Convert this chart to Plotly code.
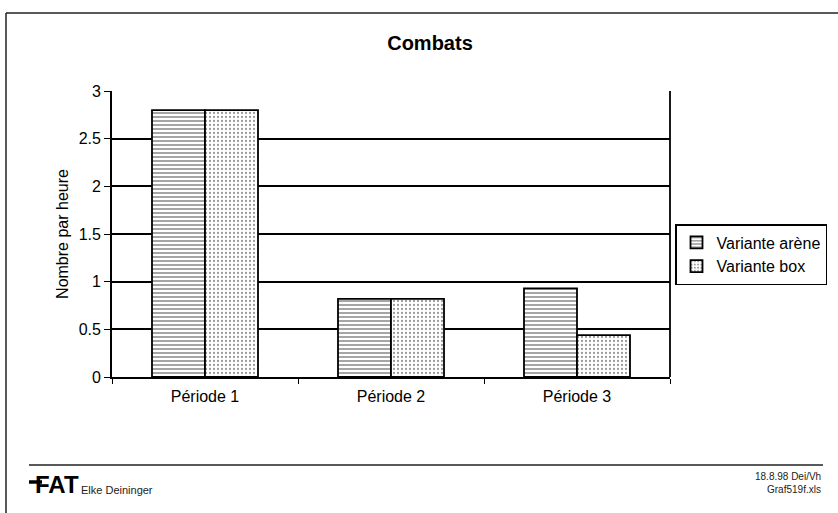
import plotly.graph_objects as go

categories = ["Période 1", "Période 2", "Période 3"]
arene = [2.8, 0.82, 0.93]
box = [2.8, 0.82, 0.44]
series_names = ["Variante arène", "Variante box"]
y_ticks = [0, 0.5, 1, 1.5, 2, 2.5, 3]
y_tick_labels = ["0", "0.5", "1", "1.5", "2", "2.5", "3"]

W, H = 838, 513
L, R, T, B = 112, 670, 91, 377
def px(x):
    return (x - L) / (R - L)
def py(y):
    return (B - y) / (B - T)

FONT = "Arial, Liberation Sans, sans-serif"
TS = 16

fig = go.Figure()
fig.add_trace(go.Bar(
    x=categories, y=arene, name=series_names[0],
    marker=dict(color="white", line=dict(color="black", width=1.8),
                pattern=dict(shape="-", fgcolor="black", bgcolor="white",
                             size=4, solidity=0.35, fillmode="overlay")),
))
fig.add_trace(go.Bar(
    x=categories, y=box, name=series_names[1],
    marker=dict(color="white", line=dict(color="black", width=1.8),
                pattern=dict(shape=".", fgcolor="#333", bgcolor="white",
                             size=4, solidity=0.25, fillmode="overlay")),
))

shapes = [
    # page border (left & top)
    dict(type="line", xref="paper", yref="paper", x0=px(6), y0=py(513), x1=px(6), y1=py(13),
         line=dict(color="#222", width=1.5)),
    dict(type="line", xref="paper", yref="paper", x0=px(6), y0=py(13), x1=px(838), y1=py(13),
         line=dict(color="#222", width=1.5)),
    # right frame of plot area
    dict(type="line", xref="paper", yref="paper", x0=1, y0=0, x1=1, y1=1,
         line=dict(color="black", width=1.8)),
    # footer rule
    dict(type="line", xref="paper", yref="paper", x0=px(29), y0=py(465), x1=px(823), y1=py(465),
         line=dict(color="#222", width=1.5)),
    # logo bar
    dict(type="line", xref="paper", yref="paper", x0=px(29), y0=py(482), x1=px(42), y1=py(482),
         line=dict(color="black", width=3.5)),
]

annotations = [
    dict(text="<b>FAT</b>", xref="paper", yref="paper", x=px(33), y=py(484),
         xanchor="left", yanchor="middle", showarrow=False,
         font=dict(family=FONT, size=24, color="black")),
    dict(text="Elke Deininger", xref="paper", yref="paper", x=px(79), y=py(490),
         xanchor="left", yanchor="middle", showarrow=False,
         font=dict(family=FONT, size=11, color="#222")),
    dict(text="18.8.98 Dei/Vh", xref="paper", yref="paper", x=px(823), y=py(476),
         xanchor="right", yanchor="middle", showarrow=False,
         font=dict(family=FONT, size=10, color="#222")),
    dict(text="Graf519f.xls", xref="paper", yref="paper", x=px(823), y=py(489),
         xanchor="right", yanchor="middle", showarrow=False,
         font=dict(family=FONT, size=10, color="#222")),
]

fig.update_layout(
    width=W, height=H,
    margin=dict(l=L, r=W - R, t=T, b=H - B, autoexpand=False),
    paper_bgcolor="white", plot_bgcolor="white",
    title=dict(text="<b>Combats</b>", x=430 / W, xanchor="center",
               xref="container", y=1 - 43 / H, yref="container",
               yanchor="middle", font=dict(family=FONT, size=20, color="black")),
    font=dict(family=FONT, size=TS, color="black"),
    barmode="group", bargap=0.43, bargroupgap=0,
    showlegend=True,
    legend=dict(x=px(675), y=py(224), xanchor="left", yanchor="top",
                bordercolor="black", borderwidth=1.5, bgcolor="white",
                font=dict(family=FONT, size=TS, color="black"),
                itemwidth=30, tracegroupgap=0),
    xaxis=dict(showline=True, linecolor="black", linewidth=1.8,
               ticks="outside", tickson="boundaries", ticklen=5, tickcolor="black",
               ticklabelstandoff=4,
               tickfont=dict(family=FONT, size=TS, color="black"),
               showgrid=False),
    yaxis=dict(range=[0, 3], tickvals=y_ticks, ticktext=y_tick_labels,
               showline=True, linecolor="black", linewidth=1.8,
               ticks="outside", ticklen=6, tickcolor="black",
               showgrid=True, gridcolor="black", gridwidth=1.5,
               zeroline=False,
               tickfont=dict(family=FONT, size=TS, color="black"),
               title=dict(text="Nombre par heure", standoff=6,
                          font=dict(family=FONT, size=TS, color="black"))),
    shapes=shapes, annotations=annotations,
)

fig.write_html("out.html", config={"displayModeBar": False},
               post_script="document.body.style.margin='0';document.body.style.padding='0';")
